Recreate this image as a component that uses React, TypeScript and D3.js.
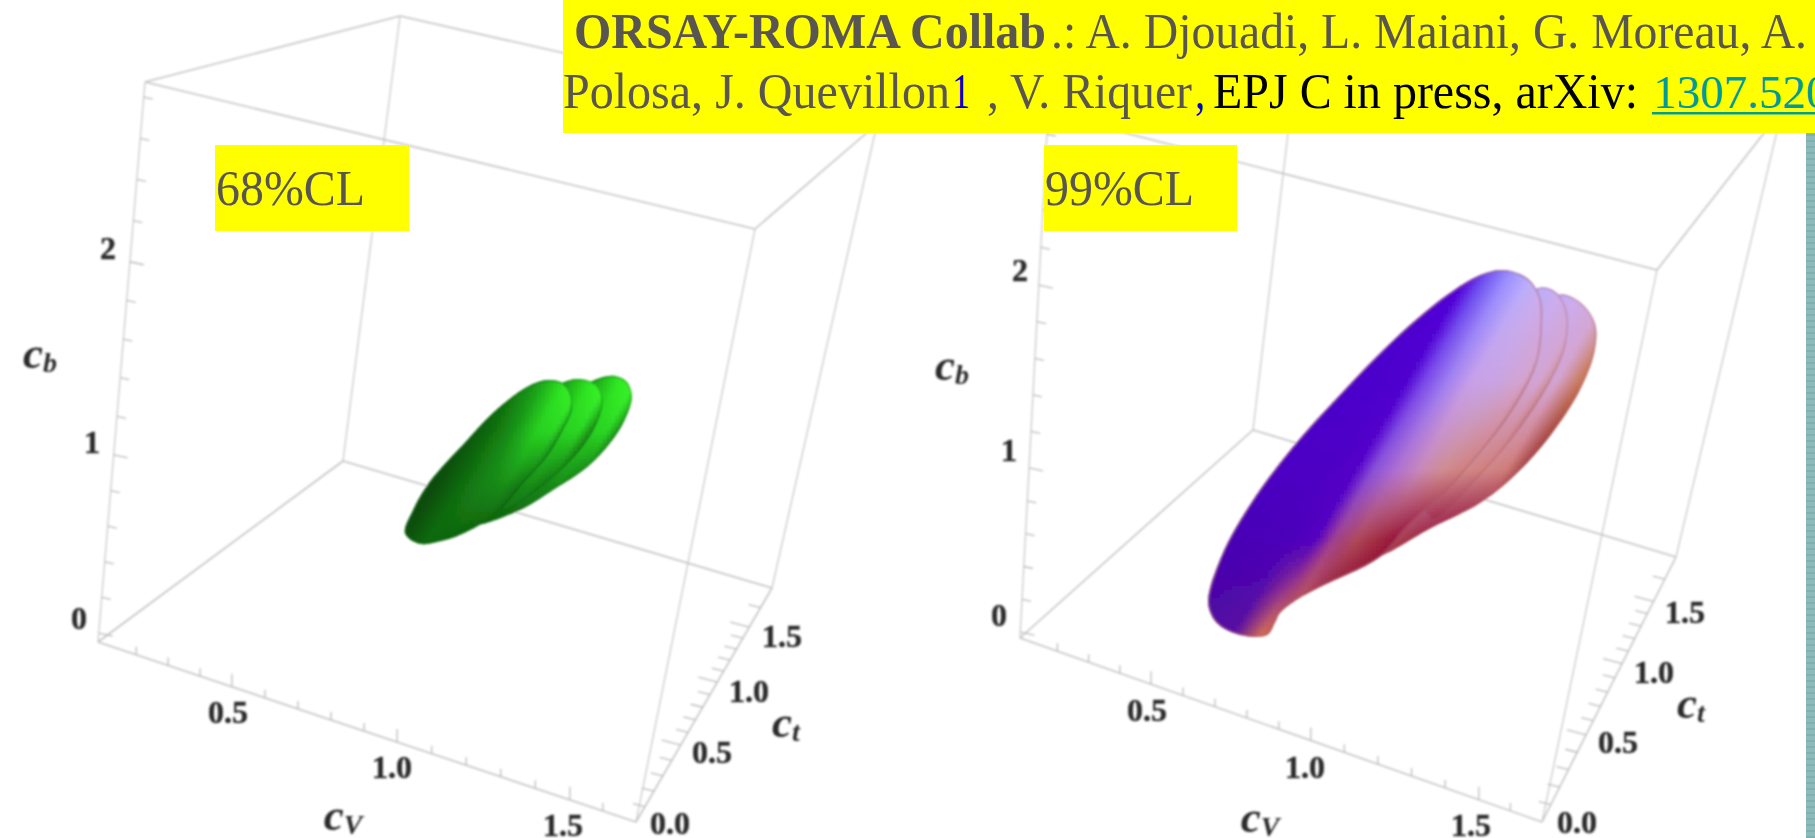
import React, { useMemo } from "react";
import * as d3 from "d3";

// ---- axis values
const cVTicks = [0.2, 0.3, 0.4, 0.5, 0.6, 0.7, 0.8, 0.9, 1.0, 1.1, 1.2, 1.3, 1.4, 1.5, 1.6];
const ctTicks = [0.1, 0.2, 0.3, 0.4, 0.5, 0.6, 0.7, 0.8, 0.9, 1.0, 1.1, 1.2, 1.3, 1.4, 1.5, 1.6];
const cbTicks = [0, 0.2, 0.4, 0.6, 0.8, 1, 1.2, 1.4, 1.6, 1.8, 2, 2.2, 2.4, 2.6, 2.8];
const cVLabels = ["0.5", "1.0", "1.5"];
const ctLabels = ["0.0", "0.5", "1.0", "1.5"];
const cbLabels = ["0", "1", "2"];

// ---- 68% CL region: outlines of the three lobes (cV, cb)
const greenFrontCV = [0.635, 0.649, 0.677, 0.715, 0.766, 0.84, 0.928, 0.983, 1.03, 1.057, 1.067, 1.049, 1.014, 0.956, 0.893, 0.8, 0.731, 0.682];
const greenFrontCB = [0.388, 0.518, 0.655, 0.782, 0.928, 1.139, 1.327, 1.395, 1.407, 1.37, 1.286, 1.171, 1.009, 0.838, 0.643, 0.479, 0.397, 0.359];
const greenMidCV = [0.921, 1.022, 1.078, 1.129, 1.152, 1.145, 1.107, 1.04, 0.963, 0.909, 0.863];
const greenMidCB = [1.149, 1.397, 1.455, 1.454, 1.389, 1.263, 1.099, 0.918, 0.753, 0.668, 0.747];
const greenBackCV = [0.989, 1.108, 1.172, 1.215, 1.235, 1.224, 1.191, 1.135, 1.045, 0.958, 0.834, 0.88];
const greenBackCB = [1.242, 1.457, 1.527, 1.519, 1.453, 1.325, 1.184, 1.025, 0.852, 0.697, 0.551, 0.73];

// ---- 99% CL region
const purpleFrontCV = [0.451, 0.484, 0.556, 0.635, 0.653, 0.664, 0.703, 0.771, 0.934, 1.001, 1.104, 1.186, 1.265, 1.317, 1.317, 1.301, 1.256, 1.183, 1.118, 1.029, 0.899, 0.755, 0.636, 0.535, 0.473];
const purpleFrontCB = [0.096, 0.004, -0.017, 0.034, 0.115, 0.179, 0.274, 0.398, 0.677, 0.892, 1.171, 1.436, 1.735, 2.037, 2.265, 2.404, 2.482, 2.48, 2.409, 2.236, 1.911, 1.485, 1.104, 0.712, 0.385];
const purpleMidCV = [1.15, 1.292, 1.349, 1.386, 1.393, 1.356, 1.276, 1.177, 1.074, 1.017];
const purpleMidCB = [1.944, 2.449, 2.458, 2.368, 2.178, 1.925, 1.587, 1.259, 0.98, 1.229];
const purpleBackCV = [1.263, 1.352, 1.419, 1.471, 1.481, 1.453, 1.376, 1.291, 1.205, 1.077, 0.919, 0.971];
const purpleBackCB = [2.076, 2.449, 2.453, 2.367, 2.219, 1.972, 1.636, 1.368, 1.163, 0.942, 0.673, 1.026];

// ---- shading tables: colour by distance across the lobe (rows) and screen height
const greenAcross = [600, 620, 640, 660, 680, 695, 705];
const greenHeights = [380, 430, 490, 545];
const greenRows = [
  ["#0a5208", "#0a5a08", "#107a10", "#1ea81a", "#30e822", "#3cfa2a", "#2cdc1c"],
  ["#0a4c08", "#0a5208", "#106c0c", "#189418", "#28d020", "#2cd824", "#1c9018"],
  ["#0a4808", "#0a4c08", "#0f6a0e", "#178018", "#188818", "#106a10", "#0c5a0c"],
  ["#0a4808", "#0c5008", "#0e6a0a", "#0e6008", "#0c5008", "#0a4a08", "#0a4a08"],
];
const purpleAcross = [1280, 1385, 1409, 1425, 1445, 1465, 1485, 1510, 1530];
const purpleHeights = [270, 380, 470, 540, 635];
const purpleRows = [
  ["#4a00c8", "#4e00d0", "#5200d8", "#6c50f0", "#9a90ff", "#b8b0ff", "#cfb0ee", "#d4a8d8", "#d8a8a0"],
  ["#4a00c8", "#4c00cc", "#5000d0", "#7a48e8", "#a080f0", "#c8a0e8", "#c8a4e4", "#d4a4d0", "#c87858"],
  ["#4800c4", "#4e00c4", "#5400c8", "#8850d8", "#b070d0", "#c888b8", "#d08c90", "#d07c78", "#902830"],
  ["#4000b0", "#4c00b8", "#5400c0", "#a04090", "#b04858", "#a02840", "#900838", "#800030", "#800030"],
  ["#380098", "#5a10a0", "#d06a58", "#c85a40", "#800030", "#800030", "#800030", "#800030", "#800030"],
];

// ---- banner
const banner1 = [
  { t: "ORSAY-ROMA Collab", x: 574, w: 472, c: "#595550", b: true },
  { t: ".: A. Djouadi, L. Maiani, G. Moreau, A.", x: 1051, w: 756, c: "#595550", b: false },
];
const banner2 = [
  { t: "Polosa, J. Quevillon", x: 563, w: 387, c: "#595550" },
  { t: "1", x: 952, w: 18, c: "#0000d0" },
  { t: ", V. Riquer", x: 987, w: 205, c: "#595550" },
  { t: ",", x: 1195, w: 10, c: "#0000d0" },
  { t: "EPJ C in press, arXiv:", x: 1213, w: 425, c: "#000000" },
];
const linkText = "1307.520";

type Pt = [number, number];
const lerp = (a: Pt, b: Pt, t: number): Pt => [a[0] + (b[0] - a[0]) * t, a[1] + (b[1] - a[1]) * t];

const serif = "'Liberation Serif', serif";

interface PanelCfg {
  id: string;
  A: Pt; B: Pt; C: Pt; D: Pt; E: Pt; F: Pt; G: Pt; H: Pt;
  uRange: number[]; wRange: number[]; vRange: number[];
  cVPos: Pt[]; ctPos: Pt[]; cbPos: Pt[];
  cVName: Pt; ctName: Pt; cbName: Pt;
  origin: Pt; eV: Pt; eB: Pt; seam: string;
  lobes: { cv: number[]; cb: number[]; shift: number }[];
  across: number[]; heights: number[]; rows: string[][];
}

const panels: PanelCfg[] = [
  {
    id: "g",
    A: [145, 82], B: [400, 16], C: [755, 229], D: [877, 124],
    E: [98, 642], F: [343, 461], G: [636, 822], H: [772, 588],
    uRange: [0, 0.249, 0.556, 0.877, 1],
    wRange: [0.016, 0.334, 0.679, 0.973],
    vRange: [0, 0.329, 0.598, 0.833, 1],
    cVPos: [[228, 712], [392, 767], [563, 825]],
    ctPos: [[670, 823], [712, 752], [749, 691], [782, 636]],
    cbPos: [[79, 618], [92, 442], [108, 248]],
    cVName: [343, 815], ctName: [786, 722], cbName: [40, 353],
    origin: [185, 537], eV: [330, 110], eB: [27, -190], seam: "#0a6a10",
    lobes: [
      { cv: greenBackCV, cb: greenBackCB, shift: 46 },
      { cv: greenMidCV, cb: greenMidCB, shift: 22 },
      { cv: greenFrontCV, cb: greenFrontCB, shift: 0 },
    ],
    across: greenAcross, heights: greenHeights, rows: greenRows,
  },
  {
    id: "p",
    A: [1048, 113], B: [1299, 40], C: [1657, 270], D: [1782, 110],
    E: [1020, 638], F: [1253, 430], G: [1542, 822], H: [1676, 557],
    uRange: [0, 0.251, 0.557, 0.879, 1],
    wRange: [0.011, 0.324, 0.672, 0.96],
    vRange: [0, 0.329, 0.598, 0.833, 1],
    cVPos: [[1147, 710], [1305, 767], [1471, 825]],
    ctPos: [[1577, 822], [1618, 742], [1654, 672], [1685, 612]],
    cbPos: [[999, 615], [1009, 450], [1020, 270]],
    cVName: [1260, 817], ctName: [1691, 703], cbName: [952, 365],
    origin: [1058, 568], eV: [328, 115], eB: [23, -175], seam: "#a86068",
    lobes: [
      { cv: purpleBackCV, cb: purpleBackCB, shift: 30 },
      { cv: purpleMidCV, cb: purpleMidCB, shift: 15 },
      { cv: purpleFrontCV, cb: purpleFrontCB, shift: 0 },
    ],
    across: purpleAcross, heights: purpleHeights, rows: purpleRows,
  },
];

const cVDomain = [0.08, 0.5, 1, 1.5, 1.7];
const cbDomain = [0, 1, 2, 2.8];
const ctDomain = [0, 0.5, 1, 1.5, 1.7];
const closed = d3.line<Pt>().curve(d3.curveCatmullRomClosed.alpha(0.5));

function Lobe({ cfg, lobe, id, isFront }: { cfg: PanelCfg; lobe: PanelCfg["lobes"][number]; id: string; isFront: boolean }) {
  const { cells, d } = useMemo(() => {
    const xV = d3.scaleLinear().domain([0, 1]).range([0, cfg.eV[0]]);
    const yV = d3.scaleLinear().domain([0, 1]).range([0, cfg.eV[1]]);
    const xB = d3.scaleLinear().domain([0, 1]).range([0, cfg.eB[0]]);
    const yB = d3.scaleLinear().domain([0, 1]).range([0, cfg.eB[1]]);
    const pts: Pt[] = lobe.cv.map((v, i) => [
      cfg.origin[0] + xV(v) + xB(lobe.cb[i]),
      cfg.origin[1] + yV(v) + yB(lobe.cb[i]),
    ]);
    const c = d3.polygonCentroid(pts);
    const grown: Pt[] = pts.map((p) => [c[0] + (p[0] - c[0]) * 1.22, c[1] + (p[1] - c[1]) * 1.22]);
    const rowScales = cfg.rows.map((r) =>
      d3.scaleLinear<string>().domain(cfg.across).range(r).interpolate(d3.interpolateRgb).clamp(true)
    );
    const step = 4;
    const xs = d3.extent(pts, (p) => p[0]) as Pt;
    const ys = d3.extent(pts, (p) => p[1]) as Pt;
    const out: { x: number; y: number; f: string }[] = [];
    for (let x = Math.floor(xs[0]) - step; x <= xs[1] + step; x += step) {
      for (let y = Math.floor(ys[0]) - step; y <= ys[1] + step; y += step) {
        if (!d3.polygonContains(grown, [x, y])) continue;
        const s = 0.867 * (x + 2) + 0.498 * (y + 2) - lobe.shift;
        const h = cfg.heights;
        const k = Math.max(0, Math.min(h.length - 2, d3.bisectRight(h, y + 2) - 1));
        const t = Math.max(0, Math.min(1, (y + 2 - h[k]) / (h[k + 1] - h[k])));
        out.push({ x, y, f: d3.interpolateRgb(rowScales[k](s), rowScales[k + 1](s))(t) });
      }
    }
    return { cells: out, d: closed(pts) as string };
  }, [cfg, lobe]);
  return (
    <g>
      <clipPath id={id}>
        <path d={d} />
      </clipPath>
      <g clipPath={`url(#${id})`}>
        {cells.map((c, i) => (
          <rect key={i} x={c.x} y={c.y} width={4.5} height={4.5} fill={c.f} />
        ))}
        <path d={d} fill="none" stroke={cfg.seam} strokeOpacity={isFront ? 0.55 : 0.4} strokeWidth={3} />
      </g>
    </g>
  );
}

function AxisName({ pos, main, sub }: { pos: Pt; main: string; sub: string }) {
  return (
    <text x={pos[0]} y={pos[1]} textAnchor="middle" dominantBaseline="central" fontFamily={serif} fontWeight="bold" fontStyle="italic" fontSize={45} fill="#2c2c2c">
      {main}
      <tspan fontSize={28} dy={9}>{sub}</tspan>
    </text>
  );
}

function Panel({ cfg }: { cfg: PanelCfg }) {
  const { A, B, C, D, E, F, G, H } = cfg;
  const uS = d3.scaleLinear().domain(cVDomain).range(cfg.uRange);
  const wS = d3.scaleLinear().domain(cbDomain).range(cfg.wRange);
  const vS = d3.scaleLinear().domain(ctDomain).range(cfg.vRange);
  const edges: [Pt, Pt][] = [[A, B], [B, D], [D, C], [C, A], [E, F], [F, H], [H, G], [G, E]];
  const uprights: [Pt, Pt][] = [[A, E], [B, F], [C, G], [D, H]];
  const major = (v: number, m: number) => Math.abs(v / m - Math.round(v / m)) < 1e-6;
  return (
    <g>
      {edges.map(([p, q], i) => (
        <line key={i} x1={p[0]} y1={p[1]} x2={q[0]} y2={q[1]} stroke="#c4c4c4" strokeWidth={1.6} />
      ))}
      {uprights.map(([p, q], i) => (
        <line key={i} x1={p[0]} y1={p[1]} x2={q[0]} y2={q[1]} stroke="#c4c4c4" strokeWidth={1.15} />
      ))}
      {cVTicks.map((v) => {
        const p = lerp(E, G, uS(v));
        return <line key={v} x1={p[0]} y1={p[1]} x2={p[0]} y2={p[1] - (major(v, 0.5) ? 13 : 8)} stroke="#bdbdbd" strokeWidth={1.3} />;
      })}
      {ctTicks.map((v) => {
        const p = lerp(G, H, vS(v));
        const m = major(v, 0.5);
        return <line key={v} x1={p[0]} y1={p[1]} x2={p[0] - (m ? 19 : 12)} y2={p[1] - (m ? 5 : 3)} stroke="#bdbdbd" strokeWidth={1.3} />;
      })}
      {cbTicks.map((v) => {
        const p = lerp(E, A, wS(v));
        const m = major(v, 1);
        return <line key={v} x1={p[0]} y1={p[1]} x2={p[0] + (m ? 14 : 9)} y2={p[1] + (m ? 3 : 2)} stroke="#bdbdbd" strokeWidth={1.3} />;
      })}
      {cfg.lobes.map((l, i) => (
        <Lobe key={i} cfg={cfg} lobe={l} id={`${cfg.id}${i}`} isFront={i === cfg.lobes.length - 1} />
      ))}
      <g fontFamily={serif} fontWeight="bold" fontSize={32} fill="#2c2c2c" stroke="#2c2c2c" strokeWidth={0.5} textAnchor="middle" dominantBaseline="central">
        {cVLabels.map((t, i) => <text key={t} x={cfg.cVPos[i][0]} y={cfg.cVPos[i][1]}>{t}</text>)}
        {ctLabels.map((t, i) => <text key={t} x={cfg.ctPos[i][0]} y={cfg.ctPos[i][1]}>{t}</text>)}
        {cbLabels.map((t, i) => <text key={t} x={cfg.cbPos[i][0]} y={cfg.cbPos[i][1]}>{t}</text>)}
      </g>
      <AxisName pos={cfg.cVName} main="c" sub="V" />
      <AxisName pos={cfg.ctName} main="c" sub="t" />
      <AxisName pos={cfg.cbName} main="c" sub="b" />
    </g>
  );
}

export default function App() {
  return (
    <svg width={1815} height={838} style={{ position: "fixed", left: 0, top: 0, display: "block", background: "#fff" }}>
      <defs>
        <filter id="soft" x="0" y="0" width="1815" height="838" filterUnits="userSpaceOnUse">
          <feGaussianBlur stdDeviation={1.3} />
        </filter>
        <pattern id="strip" width="9" height="6" patternUnits="userSpaceOnUse">
          <rect width="9" height="6" fill="#8fbaba" />
          <rect y="2" width="9" height="2" fill="#7fb0b0" />
        </pattern>
      </defs>
      <rect width={1815} height={838} fill="#fff" />
      <g filter="url(#soft)">
        {panels.map((p) => <Panel key={p.id} cfg={p} />)}
      </g>
      <rect x={1806} y={133} width={9} height={705} fill="url(#strip)" />
      <rect x={563} y={0} width={1252} height={133} fill="#ffff00" />
      <g fontFamily={serif} fontSize={50}>
        {banner1.map((s) => (
          <text key={s.t} x={s.x} y={48} fill={s.c} fontWeight={s.b ? "bold" : "normal"} textLength={s.w} lengthAdjust="spacingAndGlyphs">{s.t}</text>
        ))}
        {banner2.map((s) => (
          <text key={s.t} x={s.x} y={108} fill={s.c} textLength={s.w} lengthAdjust="spacingAndGlyphs">{s.t}</text>
        ))}
        <text x={1653} y={108} fill="#009a9a" fontSize={47}>{linkText}</text>
        <rect x={1652} y={112} width={163} height={2.5} fill="#00a090" />
      </g>
      <rect x={215} y={145} width={194} height={86} fill="#ffff00" />
      <text x={216} y={205} fontFamily={serif} fontSize={50} textLength={149} lengthAdjust="spacingAndGlyphs" fill="#595550">68%CL</text>
      <rect x={1044} y={145} width={193} height={86} fill="#ffff00" />
      <text x={1045} y={205} fontFamily={serif} fontSize={50} textLength={149} lengthAdjust="spacingAndGlyphs" fill="#595550">99%CL</text>
    </svg>
  );
}
